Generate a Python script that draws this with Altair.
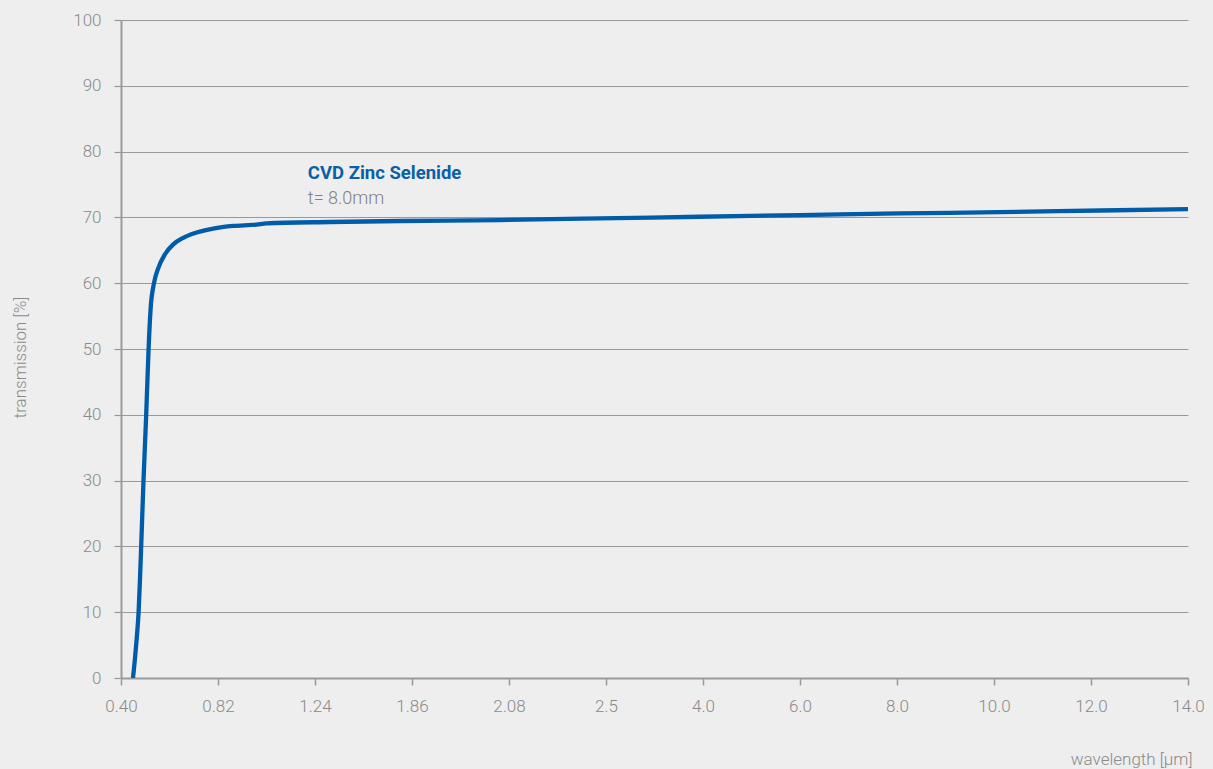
import altair as alt
import pandas as pd
import jinja2

# x-axis tick wavelengths (µm) and their printed labels (axis is piecewise / non-uniform)
tick_values = [0.40, 0.82, 1.24, 1.86, 2.08, 2.5, 4.0, 6.0, 8.0, 10.0, 12.0, 14.0]
tick_labels = ["0.40", "0.82", "1.24", "1.86", "2.08", "2.5", "4.0", "6.0", "8.0", "10.0", "12.0", "14.0"]

# transmission curve, CVD ZnSe, t = 8.0 mm
wavelength = [0.4519, 0.4606, 0.4680, 0.4762, 0.4822, 0.4874, 0.4974, 0.5091, 0.5194, 0.5280,
              0.5428, 0.5614, 0.5904, 0.6263, 0.6696, 0.7276, 0.7995, 0.886, 0.987,
              1.030, 1.335, 1.783, 2.059, 2.473, 3.95, 5.99, 8.05, 10.1, 12.2, 14.0]
transmission = [0.0, 3.0, 6.0, 10.0, 15.0, 20.0, 30.0, 40.0, 50.0, 56.0,
                60.0, 62.3, 64.4, 65.9, 66.9, 67.7, 68.3, 68.7, 68.9,
                69.1, 69.3, 69.45, 69.6, 69.85, 70.1, 70.35, 70.6, 70.8, 71.05, 71.25]

ann_text = ["CVD Zinc Selenide", "t= 8.0mm"]
ann_x = [1.209, 1.209]
ann_y = [75.8, 72.1]
ann_kind = ["title", "sub"]

W, H = 1067, 658
x_range = [i * W / (len(tick_values) - 1) for i in range(len(tick_values))]

curve = pd.DataFrame({"wl": wavelength, "T": transmission})
ann = pd.DataFrame({"wl": ann_x, "T": ann_y, "text": ann_text, "kind": ann_kind})

vals_js = "[" + ",".join(repr(v) for v in tick_values) + "]"
labs_js = "[" + ",".join("'" + s + "'" for s in tick_labels) + "]"
label_expr = f"{labs_js}[indexof({vals_js}, datum.value)]"

GRAY = "#999999"
LBL = "#8a8a8a"
FONT = "Roboto"
BG = "#eeeeee"

xscale = alt.Scale(domain=tick_values, range=x_range)
yscale = alt.Scale(domain=[0, 100])

x_axis = alt.Axis(
    values=tick_values, labelExpr=label_expr, grid=False,
    domainColor=GRAY, domainWidth=2, tickColor=GRAY, tickWidth=1.5, tickSize=7,
    labelColor=LBL, labelFont=FONT, labelFontWeight=300, labelFontSize=17, labelPadding=13,
    title="wavelength [µm]", titleFont=FONT, titleFontWeight=300, titleFontSize=17,
    titleColor=LBL, titleAlign="right", titleBaseline="middle", titleAnchor="end",
    titleX=1071, titleY=81, labelFlush=False,
)
y_axis = alt.Axis(
    values=list(range(0, 101, 10)), grid=True, gridColor=GRAY, gridWidth=1.2,
    domainColor=GRAY, domainWidth=2, tickColor=GRAY, tickWidth=1.2, tickSize=7,
    labelColor=LBL, labelFont=FONT, labelFontWeight=300, labelFontSize=17, labelPadding=13,
    title="transmission [%]", titleFont=FONT, titleFontWeight=300, titleFontSize=17,
    titleColor=LBL, titleAngle=-90, titleAlign="center", titleBaseline="middle",
    titleX=-101, titleY=337,
)

line = alt.Chart(curve).mark_line(
    color="#005ca8", strokeWidth=4.3, interpolate="monotone", clip=True
).encode(
    x=alt.X("wl:Q", scale=xscale, axis=x_axis),
    y=alt.Y("T:Q", scale=yscale, axis=y_axis),
)

title_txt = alt.Chart(ann[ann.kind == "title"]).mark_text(
    align="left", baseline="alphabetic", font=FONT, fontSize=18.5, fontWeight="bold", color="#0a5fa6"
).encode(x=alt.X("wl:Q", scale=xscale), y=alt.Y("T:Q", scale=yscale), text="text:N")

sub_txt = alt.Chart(ann[ann.kind == "sub"]).mark_text(
    align="left", baseline="alphabetic", font=FONT, fontSize=18, fontWeight=300, color="#808080"
).encode(x=alt.X("wl:Q", scale=xscale), y=alt.Y("T:Q", scale=yscale), text="text:N")

chart = alt.layer(line, title_txt, sub_txt).properties(
    width=W, height=H,
    autosize=alt.AutoSizeParams(type="none"),
    padding={"left": 113, "top": 12, "right": 17, "bottom": 91},
    background=BG,
).configure_view(stroke=None)

PAGE = jinja2.Template("""<!DOCTYPE html>
<html>
<head>
<meta charset="utf-8">
<style>html, body { background: """ + BG + """; } body { margin: 8px 8px 0 8px; overflow: hidden; }</style>
<script type="text/javascript" src="{{ base_url }}/vega@{{ vega_version }}"></script>
<script type="text/javascript" src="{{ base_url }}/vega-lite@{{ vegalite_version }}"></script>
<script type="text/javascript" src="{{ base_url }}/vega-embed@{{ vegaembed_version }}"></script>
</head>
<body>
<div id="{{ output_div }}"></div>
<script>
  (function(vegaEmbed) {
    var spec = {{ spec }};
    var embedOpt = {{ embed_options }};
    vegaEmbed("#{{ output_div }}", spec, embedOpt).catch(console.error);
  })(vegaEmbed);
</script>
</body>
</html>
""")

try:
    chart.save("out.html", embed_options={"renderer": "svg", "actions": False}, template=PAGE)
except Exception:
    chart.save("out.html", embed_options={"renderer": "svg", "actions": False})
